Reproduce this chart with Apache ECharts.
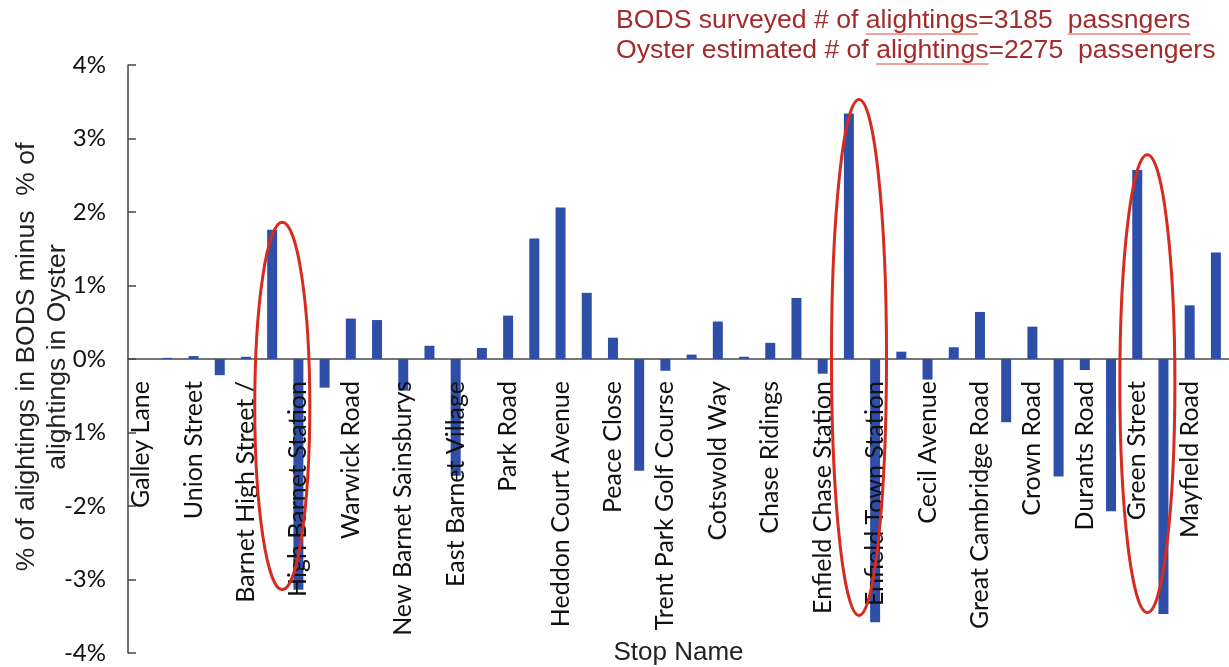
<!DOCTYPE html>
<html>
<head>
<meta charset="utf-8">
<script src="https://cdn.jsdelivr.net/npm/echarts@6/dist/echarts.min.js"></script>
<style>
  html, body { margin: 0; padding: 0; background: #ffffff; }
  #chart { width: 1229px; height: 667px; }
</style>
</head>
<body>
<div id="chart"></div>
<script>
// Stop names (only every other stop is labelled in the original chart)
const categories = [
  'Galley Lane', '', 'Union Street', '', 'Barnet High Street /', '',
  'High Barnet Station', '', 'Warwick Road', '', 'New Barnet Sainsburys', '',
  'East Barnet Village', '', 'Park Road', '', 'Heddon Court Avenue', '',
  'Peace Close', '', 'Trent Park Golf Course', '', 'Cotswold Way', '',
  'Chase Ridings', '', 'Enfield Chase Station', '', 'Enfield Town Station', '',
  'Cecil Avenue', '', 'Great Cambridge Road', '', 'Crown Road', '',
  'Durants Road', '', 'Green Street', '', 'Mayfield Road', ''
];

// % of alightings in BODS minus % of alightings in Oyster
const diffValues = [
  0, 0.015, 0.04, -0.22, 0.03, 1.76, -3.14, -0.39, 0.55, 0.53,
  -0.43, 0.18, -1.59, 0.15, 0.59, 1.64, 2.06, 0.90, 0.29, -1.52,
  -0.16, 0.06, 0.51, 0.03, 0.22, 0.83, -0.20, 3.34, -3.58, 0.10,
  -0.28, 0.16, 0.64, -0.86, 0.44, -1.60, -0.15, -2.07, 2.57, -3.47,
  0.73, 1.45
];

const yTicks = { min: -4, max: 4, step: 1 };

const yTitleLines = ['% of alightings in BODS minus  % of', 'alightings in Oyster'];
const xTitle = 'Stop Name';

const noteLines = [
  'BODS surveyed # of alightings=3185  passngers',
  'Oyster estimated # of alightings=2275  passengers'
];
// words flagged with a red underline in each note line
const noteUnderlined = [['alightings', 'passngers'], ['alightings']];

// highlighted stop pairs (category index range, value extent)
const highlights = [
  { from: 5, to: 6, top: 1.86, bottom: -3.14 },
  { from: 27, to: 28, top: 3.53, bottom: -3.49 },
  { from: 38, to: 39, top: 2.78, bottom: -3.45 }
];

const chart = echarts.init(document.getElementById('chart'), null, { renderer: 'canvas' });

const GRID_TOP = 65, GRID_H = 588;
const labelStyle = { fontFamily: 'Lato', fontSize: 25, color: '#111' };

const option = {
  animation: false,
  backgroundColor: '#ffffff',
  grid: [
    // main plotting grid
    { left: 128, right: 0, top: GRID_TOP, height: GRID_H, containLabel: false, outerBoundsMode: 'none' },
    // upper half grid: its bottom edge sits on the 0% line, used to hang the stop labels there
    { left: 128, right: 0, top: GRID_TOP, height: GRID_H * (yTicks.max / (yTicks.max - yTicks.min)), containLabel: false, outerBoundsMode: 'none' }
  ],
  xAxis: [
    {
      type: 'category',
      gridIndex: 0,
      data: categories,
      axisLine: { show: true, onZero: true, lineStyle: { color: '#4a4a4a', width: 1.5 } },
      axisTick: { show: false },
      axisLabel: { show: false },
      splitLine: { show: false }
    },
    {
      type: 'category',
      gridIndex: 1,
      data: categories,
      z: 5,
      name: xTitle,
      nameLocation: 'middle',
      nameGap: 275,
      nameTextStyle: { fontFamily: 'Liberation Sans', fontSize: 26, color: '#222' },
      axisLine: { show: false },
      axisTick: { show: false },
      axisLabel: Object.assign({ interval: 0, rotate: 90, margin: 22 }, labelStyle),
      splitLine: { show: false }
    }
  ],
  yAxis: [
    {
      type: 'value',
      gridIndex: 0,
      min: yTicks.min,
      max: yTicks.max,
      interval: yTicks.step,
      axisLine: { show: true, lineStyle: { color: '#444', width: 1.5 } },
      axisTick: { show: true, inside: true, length: 8, lineStyle: { color: '#444', width: 1.5 } },
      axisLabel: {
        margin: 22,
        fontFamily: 'Lato',
        fontSize: 24,
        color: '#111',
        formatter: v => v + '%'
      },
      splitLine: { show: false }
    },
    {
      type: 'value',
      gridIndex: 1,
      min: 0,
      max: yTicks.max,
      show: false
    }
  ],
  series: [{
    type: 'bar',
    xAxisIndex: 0,
    yAxisIndex: 0,
    data: diffValues,
    barWidth: 10,
    itemStyle: { color: '#2f4ea8' }
  }]
};

chart.setOption(option);

// ---- annotations: axis title, note text, underlines, ellipses ----
const graphics = [];

// y-axis title (two rotated lines, centred on the axis)
graphics.push({
  type: 'text', z: 50,
  x: 42, y: GRID_TOP + GRID_H / 2 - 2,
  rotation: Math.PI / 2,
  style: {
    text: yTitleLines.join('\n'),
    font: '26.5px "Liberation Sans"',
    fill: '#222',
    align: 'center',
    verticalAlign: 'middle',
    lineHeight: 31
  }
});

const noteFont = '26.6px "Liberation Sans"';
const noteX = 616;
const noteY = [22, 52];
const noteColor = '#a32b2b';
const ctx = document.createElement('canvas').getContext('2d');
ctx.font = noteFont;

noteLines.forEach((txt, i) => {
  graphics.push({
    type: 'text', z: 100, left: noteX, top: noteY[i] - 15,
    style: { text: txt, font: noteFont, fill: noteColor }
  });
  noteUnderlined[i].forEach(word => {
    const idx = txt.indexOf(word);
    const x1 = noteX + ctx.measureText(txt.slice(0, idx)).width;
    const w = ctx.measureText(word).width;
    graphics.push({
      type: 'line', z: 100,
      shape: { x1: x1, y1: noteY[i] + 12, x2: x1 + w, y2: noteY[i] + 12 },
      style: { stroke: '#e0453a', lineWidth: 1.2 }
    });
  });
});

highlights.forEach(h => {
  const pa = chart.convertToPixel({ gridIndex: 0 }, [h.from, h.top]);
  const pb = chart.convertToPixel({ gridIndex: 0 }, [h.to, h.bottom]);
  const step = pb[0] - pa[0];
  const cx = (pa[0] + pb[0]) / 2 - 3;
  const cy = (pa[1] + pb[1]) / 2;
  graphics.push({
    type: 'ellipse', z: 100,
    shape: { cx: cx, cy: cy, rx: step * 1.05, ry: (pb[1] - pa[1]) / 2 },
    style: { fill: 'none', stroke: '#d62b1f', lineWidth: 3 }
  });
});

chart.setOption({ graphic: graphics });
</script>
</body>
</html>
